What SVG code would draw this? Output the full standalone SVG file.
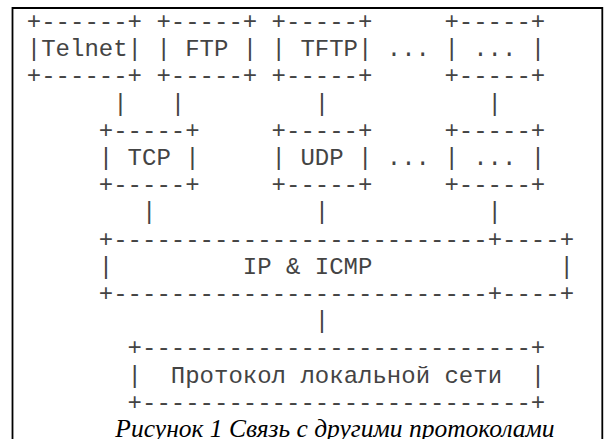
<svg xmlns="http://www.w3.org/2000/svg" width="609" height="439" viewBox="0 0 609 439">
<style>
.m{font-family:"Liberation Mono","Courier New",monospace;font-size:24px;fill:#444}
.cap{font-family:"Liberation Serif","Times New Roman",serif;font-size:25.5px;font-style:italic;fill:#000}
</style>
<rect x="0" y="0" width="609" height="439" fill="#fff"/>
<path d="M12.5 460 V8 H602.3 V460" fill="none" stroke="#000" stroke-width="1.8"/>
<g id="telnet" class="m">
<text x="26.8" y="29">+------+</text><text x="26.8" y="56.2">|Telnet|</text><text x="26.8" y="83.4">+------+</text>
</g>
<g id="ftp" class="m">
<text x="156.4" y="29">+-----+</text><text x="156.4" y="56.2">|</text><text x="185.2" y="56.2">FTP</text><text x="242.8" y="56.2">|</text><text x="156.4" y="83.4">+-----+</text>
</g>
<g id="tftp" class="m">
<text x="271.6" y="29">+-----+</text><text x="271.6" y="56.2">|</text><text x="300.4" y="56.2">TFTP|</text><text x="271.6" y="83.4">+-----+</text>
</g>
<g id="app-dots" class="m"><text x="386.8" y="56.2">...</text></g>
<g id="app-other" class="m">
<text x="444.4" y="29">+-----+</text><text x="444.4" y="56.2">|</text><text x="473.2" y="56.2">...</text><text x="530.8" y="56.2">|</text><text x="444.4" y="83.4">+-----+</text>
</g>
<g id="tcp" class="m">
<text x="98.8" y="137.8">+-----+</text><text x="98.8" y="165">|</text><text x="127.6" y="165">TCP</text><text x="185.2" y="165">|</text><text x="98.8" y="192.2">+-----+</text>
</g>
<g id="udp" class="m">
<text x="271.6" y="137.8">+-----+</text><text x="271.6" y="165">|</text><text x="300.4" y="165">UDP</text><text x="358" y="165">|</text><text x="271.6" y="192.2">+-----+</text>
</g>
<g id="transport-dots" class="m"><text x="386.8" y="165">...</text></g>
<g id="transport-other" class="m">
<text x="444.4" y="137.8">+-----+</text><text x="444.4" y="165">|</text><text x="473.2" y="165">...</text><text x="530.8" y="165">|</text><text x="444.4" y="192.2">+-----+</text>
</g>
<g id="ip" class="m">
<text x="98.8" y="246.6">+--------------------------+----+</text><text x="98.8" y="273.8">|</text><text x="242.8" y="273.8">IP &amp; ICMP</text><text x="559.6" y="273.8">|</text><text x="98.8" y="301">+--------------------------+----+</text>
</g>
<g id="lan" class="m">
<text x="127.6" y="355.4">+---------------------------+</text><text x="127.6" y="382.6">|</text><text x="170.8" y="382.6">Протокол локальной сети</text><text x="530.8" y="382.6">|</text><text x="127.6" y="409.8">+---------------------------+</text>
</g>
<g id="connectors" class="m">
<text x="113.2" y="110.6">|</text><text x="170.8" y="110.6">|</text><text x="314.8" y="110.6">|</text><text x="487.6" y="110.6">|</text>
<text x="142" y="219.4">|</text><text x="314.8" y="219.4">|</text><text x="487.6" y="219.4">|</text>
<text x="314.8" y="328.2">|</text>
</g>
<text class="cap" x="335" y="437" text-anchor="middle">Рисунок 1 Связь с другими протоколами</text>
</svg>
